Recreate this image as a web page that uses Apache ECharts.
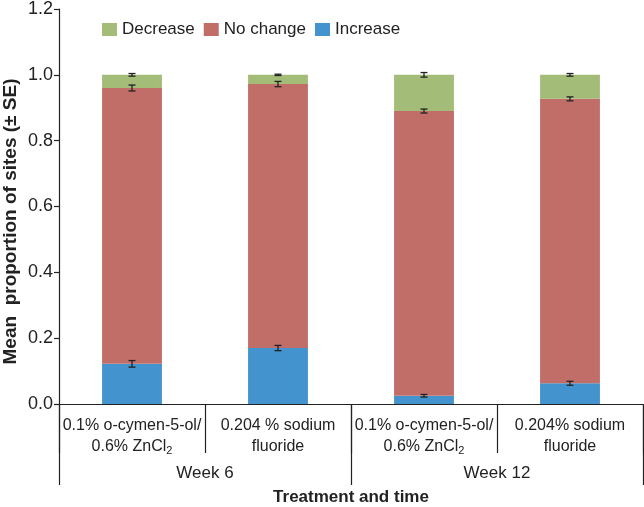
<!DOCTYPE html>
<html><head><meta charset="utf-8">
<script src="https://cdn.jsdelivr.net/npm/echarts@6/dist/echarts.min.js"></script>
<style>html,body{margin:0;padding:0;background:#fff}#c{width:644px;height:507px}</style>
</head><body><div id="c"></div>
<script>
var categories = ['0.1% o-cymen-5-ol/\n0.6% ZnCl2', '0.204 % sodium\nfluoride', '0.1% o-cymen-5-ol/\n0.6% ZnCl2', '0.204% sodium\nfluoride'];
var groups = ['Week 6', 'Week 12'];
var increase = [0.122, 0.170, 0.025, 0.063];
var noChange = [0.838, 0.802, 0.865, 0.864];
var decrease = [0.040, 0.028, 0.110, 0.073];
var seIncrease = [0.010, 0.008, 0.004, 0.006];
var seNoChange = [0.009, 0.008, 0.006, 0.006];
var seDecrease = [0.004, 0.002, 0.007, 0.004];
var yTicks = ['0.0', '0.2', '0.4', '0.6', '0.8', '1.0', '1.2'];

var FONT = '"Liberation Sans", Arial, sans-serif';
var errData = [];
for (var i = 0; i < categories.length; i++) {
  var c1 = increase[i], c2 = c1 + noChange[i], c3 = c2 + decrease[i];
  errData.push([i, c1, seIncrease[i]]);
  errData.push([i, c2, seNoChange[i]]);
  errData.push([i, c3, seDecrease[i]]);
}

var chart = echarts.init(document.getElementById('c'), null, {renderer: 'canvas'});
chart.setOption({
  animation: false,
  textStyle: {fontFamily: FONT},
  legend: {
    top: 16, left: 97, itemWidth: 15, itemHeight: 13, itemGap: 9,
    icon: 'rect', padding: 5,
    textStyle: {fontSize: 17, color: '#222', fontFamily: FONT},
    data: ['Decrease', 'No change', 'Increase']
  },
  grid: {left: 59, right: 1, top: 9, bottom: 103, containLabel: false, outerBoundsMode: 'none'},
  xAxis: [{
    type: 'category', data: categories, position: 'bottom',
    axisLine: {show: true, lineStyle: {color: '#222', width: 1.2}},
    axisTick: {show: true, inside: false, length: 49, alignWithLabel: false, lineStyle: {color: '#222', width: 1.2}},
    axisLabel: {
      interval: 0, margin: 11, color: '#222', fontSize: 16, lineHeight: 21, fontFamily: FONT,
      formatter: function (v) {
        var lines = v.split('\n');
        return lines.map(function (l) {
          if (/ZnCl2$/.test(l)) return '{t|' + l.slice(0, -1) + '}{s|2}';
          return '{t|' + l + '}';
        }).join('\n');
      },
      rich: {
        t: {fontSize: 16, lineHeight: 21, color: '#222', fontFamily: FONT},
        s: {fontSize: 11, lineHeight: 21, color: '#222', fontFamily: FONT, padding: [9, 0, 0, 0]}
      }
    }
  }, {
    type: 'category', data: groups, position: 'bottom', offset: 0,
    axisLine: {show: false},
    axisTick: {show: true, inside: false, length: 81, alignWithLabel: false, lineStyle: {color: '#222', width: 1.2}},
    axisLabel: {show: true, interval: 0, margin: 61, color: '#222', fontSize: 17, fontFamily: FONT},
    name: 'Treatment and time', nameLocation: 'middle', nameGap: 85, nameMoveOverlap: false,
    nameTextStyle: {fontSize: 17, fontWeight: 'bold', color: '#222', fontFamily: FONT}
  }],
  yAxis: {
    type: 'value', min: 0, max: 1.2, interval: 0.2,
    axisLine: {show: true, lineStyle: {color: '#222', width: 1.2}},
    axisTick: {show: true, inside: false, length: 5, lineStyle: {color: '#222', width: 1.2}},
    splitLine: {show: false},
    axisLabel: {color: '#222', fontSize: 18, margin: 6, fontFamily: FONT,
      formatter: function (v) { return yTicks[Math.round(v / 0.2)]; }},
    name: 'Mean  proportion of sites (± SE)', nameLocation: 'middle', nameGap: 39, nameMoveOverlap: false,
    nameTextStyle: {fontSize: 19, fontWeight: 'bold', color: '#222', fontFamily: FONT, padding: [0, 30, 0, 0]}
  },
  series: [
    {name: 'Increase', type: 'bar', stack: 's', data: increase, barWidth: '41%',
      itemStyle: {color: '#4393CE'}},
    {name: 'No change', type: 'bar', stack: 's', data: noChange, barWidth: '41%',
      itemStyle: {color: '#C26E68'}},
    {name: 'Decrease', type: 'bar', stack: 's', data: decrease, barWidth: '41%',
      itemStyle: {color: '#A3BD78'}},
    {type: 'custom', name: 'err', data: errData, z: 10,
      renderItem: function (params, api) {
        var x = api.value(0), y = api.value(1), e = api.value(2);
        var hi = api.coord([x, y + e]), lo = api.coord([x, y - e]);
        var w = 3.5;
        var st = {stroke: '#222', lineWidth: 1.3};
        return {type: 'group', children: [
          {type: 'line', shape: {x1: hi[0], y1: hi[1], x2: lo[0], y2: lo[1]}, style: st},
          {type: 'line', shape: {x1: hi[0] - w, y1: hi[1], x2: hi[0] + w, y2: hi[1]}, style: st},
          {type: 'line', shape: {x1: lo[0] - w, y1: lo[1], x2: lo[0] + w, y2: lo[1]}, style: st}
        ]};
      }}
  ]
});
</script></body></html>
